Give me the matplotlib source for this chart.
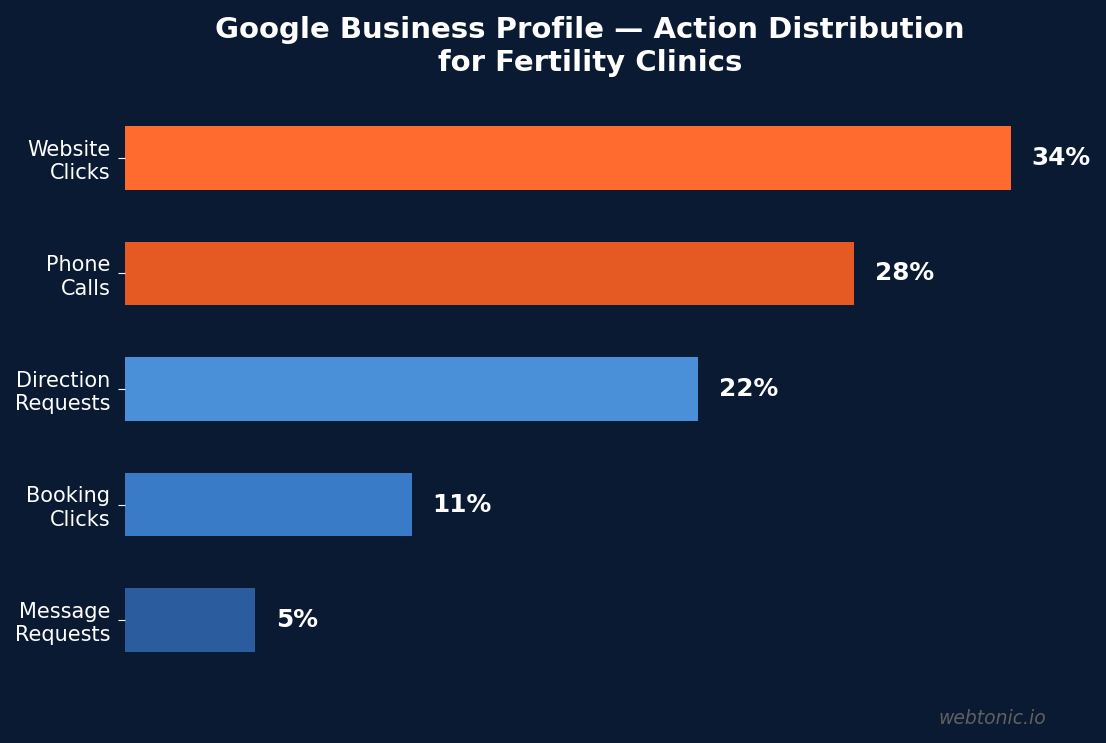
import matplotlib.pyplot as plt

# ---- data ----
CATEGORIES = ['Website\nClicks', 'Phone\nCalls', 'Direction\nRequests', 'Booking\nClicks', 'Message\nRequests']
SHARES = [34, 28, 22, 11, 5]
BAR_COLORS = ['#ff6b2f', '#e55a22', '#4a90d9', '#3a7bc8', '#2b5c9e']

BG = '#0b1a33'

fig = plt.figure(figsize=(11.06, 7.43), dpi=100, facecolor=BG)
ax = fig.add_axes([125 / 1106, (743 - 689.3) / 743, 930 / 1106, 600.6 / 743])
ax.set_facecolor(BG)

y = list(range(len(CATEGORIES)))
ax.barh(y, SHARES, height=0.55, color=BAR_COLORS)
ax.set_ylim(4.6, -0.6)
ax.set_xlim(0, max(SHARES) * 1.05)

for yi, v in zip(y, SHARES):
    ax.text(v + 0.8, yi, f'{v}%', va='center', ha='left', color='white',
            fontsize=17.8, fontweight='bold')

ax.set_yticks(y)
ax.set_yticklabels(CATEGORIES, fontsize=15, color='white')
ax.tick_params(axis='y', colors='white', labelcolor='white', length=5, pad=5.5)
ax.set_xticks([])
for s in ax.spines.values():
    s.set_visible(False)

ax.set_title('Google Business Profile \u2014 Action Distribution\nfor Fertility Clinics',
             color='white', fontsize=21, fontweight='bold', pad=13)

fig.text(1046 / 1106, 1 - 718 / 743, 'webtonic.io', color='#606060', fontsize=13.5,
         style='italic', ha='right', va='center')

fig.savefig('out.png', dpi=100, facecolor=BG)
